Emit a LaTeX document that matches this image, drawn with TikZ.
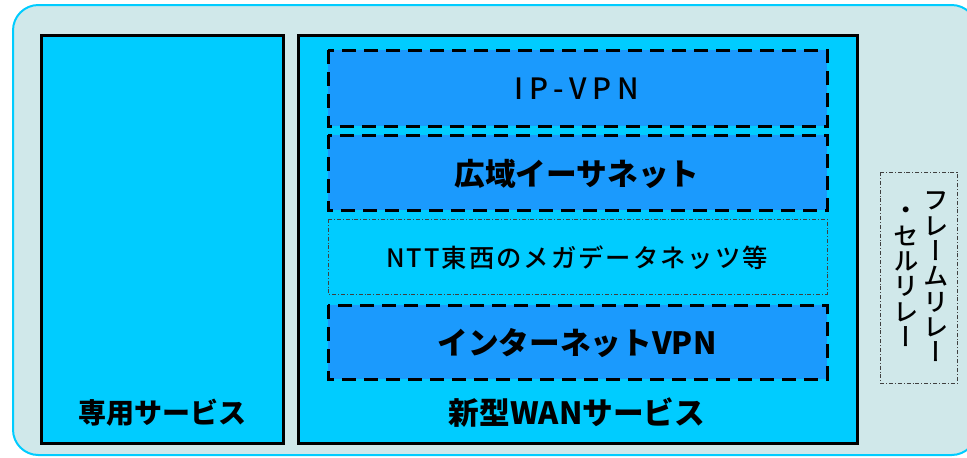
\documentclass[tikz,border=0pt]{standalone}
\usepackage{fontspec}
\setmainfont{Noto Sans CJK JP}
\newfontfamily\medfont{Noto Sans CJK JP Medium}
\newfontfamily\vertfont[RawFeature=+vert]{Noto Sans CJK JP Medium}
\usetikzlibrary{positioning}
\definecolor{wan-bg}{RGB}{208, 232, 234}
\definecolor{wan-cyan}{RGB}{0, 204, 255}
\definecolor{wan-blue}{RGB}{27, 154, 253}

\begin{document}
\begin{tikzpicture}[x=0.75pt, y=-0.75pt,
    svcbox/.style={draw=black, fill=wan-cyan, line width=2.25pt},
    netbox/.style={draw=black, fill=wan-blue, line width=2.25pt, dash pattern=on 10.5pt off 6pt},
    thinbox/.style={draw=black!75, line width=0.6pt, dash pattern=on 3pt off 1.5pt on 0.6pt off 1.5pt},
    boldtxt/.style={font=\bfseries\fontsize{23}{23}\selectfont}]
\useasboundingbox (0,0) rectangle (967,457);
\begin{scope}
  \clip (0,0) rectangle (967,457);
  \filldraw[fill=wan-bg, draw=wan-cyan, line width=1.5pt, rounded corners=19pt] (13,5) rectangle (977,455);
\end{scope}
% service boxes
\filldraw[svcbox] (41,35) rectangle (283,443);
\filldraw[svcbox] (298,35) rectangle (857,443);
\filldraw[netbox] (328,50) rectangle (827,126);
\filldraw[netbox] (328,135) rectangle (827,210);
\filldraw[thinbox, fill=wan-cyan] (328,219) rectangle (827,294);
\filldraw[netbox] (328,305) rectangle (827,379);
\filldraw[thinbox, fill=wan-bg] (880,172) rectangle (957,383);
% labels
\node[font=\medfont\fontsize{22}{22}\selectfont\addfontfeatures{LetterSpace=20}] (ipvpn) at (577,89) {IP-VPN};
\node[boldtxt] (ether) at (577,174) {広域イーサネット};
\node[font=\medfont\fontsize{19}{19}\selectfont\addfontfeatures{LetterSpace=8}] (mega) at (577,258) {NTT東西のメガデータネッツ等};
\node[boldtxt] (inetvpn) at (577,343) {インターネットVPN};
\node[boldtxt, font=\bfseries\fontsize{21}{21}\selectfont] (senyo) at (162,413) {専用サービス};
\node[boldtxt] (shingata) at (577,413) {新型WANサービス};
\node[font=\vertfont\fontsize{19}{19}\selectfont, align=center] (frame) at (936,277) {フ\\レ\\ー\\ム\\リ\\レ\\ー};
\node[font=\vertfont\fontsize{19}{19}\selectfont, align=center] (cell) at (906,277) {・\\セ\\ル\\リ\\レ\\ー};
\end{tikzpicture}
\end{document}
